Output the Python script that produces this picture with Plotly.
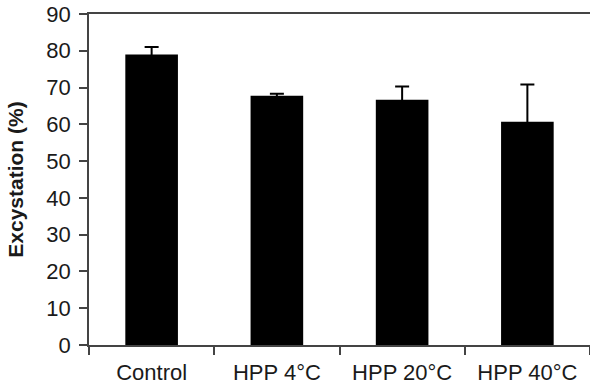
import plotly.graph_objects as go

categories = ["Control", "HPP 4°C", "HPP 20°C", "HPP 40°C"]
values = [79.0, 67.8, 66.7, 60.7]
errors = [2.0, 0.5, 3.6, 10.1]
y_ticks = [0, 10, 20, 30, 40, 50, 60, 70, 80, 90]

fig = go.Figure()
fig.add_trace(go.Bar(
    x=categories,
    y=values,
    marker=dict(color="black", line=dict(width=0)),
    # lower half of each error bar falls inside the black bar and is hidden
    error_y=dict(type="data", array=errors, symmetric=True,
                 color="black", thickness=2, width=7),
))

font_family = "Liberation Sans, Arial, sans-serif"
fig.update_layout(
    width=590, height=390,
    margin=dict(l=89, r=0, t=14, b=45),
    paper_bgcolor="white", plot_bgcolor="white",
    bargap=0.58,
    showlegend=False,
    font=dict(family=font_family, size=22, color="#1a1a1a"),
)
fig.update_xaxes(
    type="category", automargin=False,
    tickson="boundaries",
    ticks="outside", ticklen=8, tickwidth=1.5, tickcolor="#444",
    showline=True, linecolor="#444", linewidth=1.5, mirror=True,
    showgrid=False, ticklabelstandoff=7,
    tickfont=dict(size=22, family=font_family, color="#1a1a1a"),
    range=[-0.5, 3.5],
)
fig.update_yaxes(
    range=[0, 90], tickvals=y_ticks, automargin=False,
    ticks="outside", ticklen=8, tickwidth=1.5, tickcolor="#444",
    showline=True, linecolor="#444", linewidth=1.5, mirror=True,
    showgrid=False, zeroline=False, ticklabelstandoff=4,
    tickfont=dict(size=22, family=font_family, color="#1a1a1a"),
    title=dict(text="<b>Excystation (%)</b>", standoff=17,
               font=dict(size=21, family=font_family, color="#1a1a1a")),
)

fig.write_html("out.html", config={"displayModeBar": False},
               post_script="document.body.style.margin='0';")
